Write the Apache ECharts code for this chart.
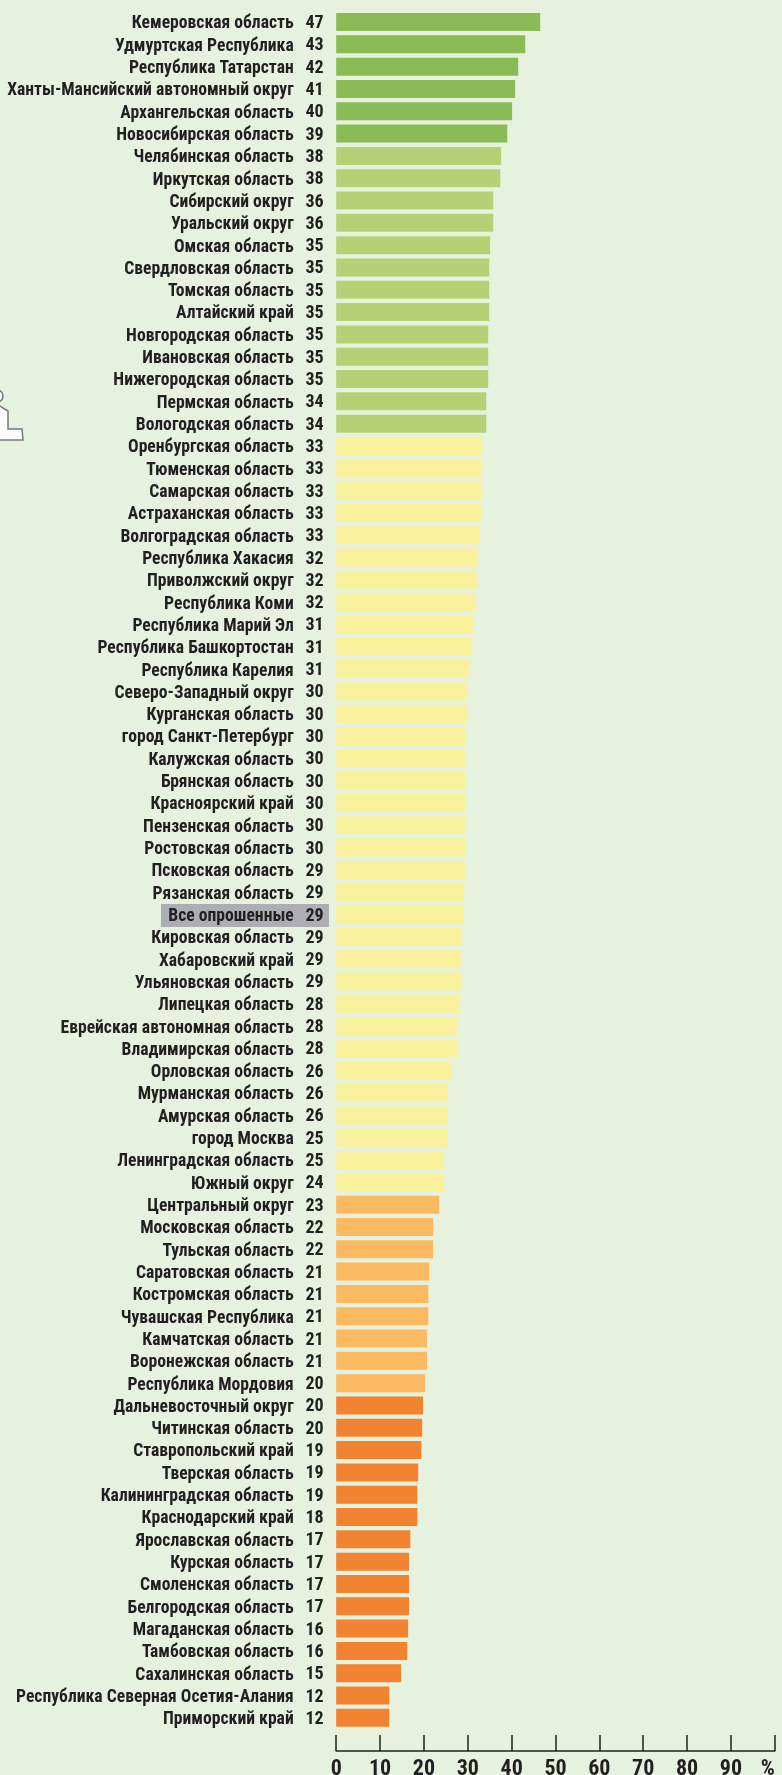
<!DOCTYPE html>
<html>
<head>
<meta charset="utf-8">
<style>
    html, body { margin: 0; padding: 0; background: #e6f1de; }
    #chart { width: 782px; height: 1775px; }
</style>
<script src="https://cdn.jsdelivr.net/npm/echarts@6/dist/echarts.min.js"></script>
</head>
<body>
<div id="chart"></div>
<script>
const regions = [
    'Кемеровская область', 'Удмуртская Республика', 'Республика Татарстан', 'Ханты-Мансийский автономный округ',
    'Архангельская область', 'Новосибирская область', 'Челябинская область', 'Иркутская область',
    'Сибирский округ', 'Уральский округ', 'Омская область', 'Свердловская область', 'Томская область',
    'Алтайский край', 'Новгородская область', 'Ивановская область', 'Нижегородская область', 'Пермская область',
    'Вологодская область', 'Оренбургская область', 'Тюменская область', 'Самарская область', 'Астраханская область',
    'Волгоградская область', 'Республика Хакасия', 'Приволжский округ', 'Республика Коми', 'Республика Марий Эл',
    'Республика Башкортостан', 'Республика Карелия', 'Северо-Западный округ', 'Курганская область',
    'город Санкт-Петербург', 'Калужская область', 'Брянская область', 'Красноярский край', 'Пензенская область',
    'Ростовская область', 'Псковская область', 'Рязанская область', 'Все опрошенные', 'Кировская область',
    'Хабаровский край', 'Ульяновская область', 'Липецкая область', 'Еврейская автономная область',
    'Владимирская область', 'Орловская область', 'Мурманская область', 'Амурская область', 'город Москва',
    'Ленинградская область', 'Южный округ', 'Центральный округ', 'Московская область', 'Тульская область',
    'Саратовская область', 'Костромская область', 'Чувашская Республика', 'Камчатская область', 'Воронежская область',
    'Республика Мордовия', 'Дальневосточный округ', 'Читинская область', 'Ставропольский край', 'Тверская область',
    'Калининградская область', 'Краснодарский край', 'Ярославская область', 'Курская область', 'Смоленская область',
    'Белгородская область', 'Магаданская область', 'Тамбовская область', 'Сахалинская область',
    'Республика Северная Осетия-Алания', 'Приморский край'
];
// подписи с картинки (округлённые)
const valueLabels = [
    '47', '43', '42', '41', '40', '39', '38', '38', '36', '36', '35', '35', '35', '35', '35', '35', '35', '34', '34',
    '33', '33', '33', '33', '33', '32', '32', '32', '31', '31', '31', '30', '30', '30', '30', '30', '30', '30', '30',
    '29', '29', '29', '29', '29', '29', '28', '28', '28', '26', '26', '26', '25', '25', '24', '23', '22', '22',
    '21', '21', '21', '21', '21', '20', '20', '20', '19', '19', '19', '18', '17', '17', '17', '17', '16', '16', '15',
    '12', '12'
];
// длины столбиков
const barValues = [
    46.5, 43.1, 41.5, 40.8, 40.1, 39.0, 37.6, 37.4, 35.8, 35.8, 35.1, 34.9, 34.9, 34.9, 34.65, 34.65, 34.65, 34.2, 34.2,
    33.3, 33.3, 33.3, 33.1, 32.8, 32.4, 32.2, 31.8, 31.3, 31.0, 30.5, 29.9, 29.9, 29.6, 29.6, 29.6, 29.6, 29.5, 29.5,
    29.5, 29.2, 29.0, 28.7, 28.6, 28.6, 28.1, 27.7, 27.7, 26.3, 25.5, 25.5, 25.5, 24.5, 24.5, 23.5, 22.1, 22.1,
    21.2, 21.0, 21.0, 20.7, 20.7, 20.3, 19.8, 19.6, 19.4, 18.7, 18.5, 18.5, 16.9, 16.6, 16.6, 16.6, 16.4, 16.2, 14.8,
    12.1, 12.1
];
const highlighted = 'Все опрошенные';

const textColor = '#231f20';
const fontFamily = '"Roboto Condensed", "Liberation Sans", sans-serif';

function barColor(v) {
    if (v >= 38.5) return '#8abb55';
    if (v >= 33.8) return '#b8d075';
    if (v >= 24) return '#f9f19b';
    if (v >= 20) return '#fbb962';
    return '#f28331';
}

const chart = echarts.init(document.getElementById('chart'));
chart.setOption({
    animation: false,
    backgroundColor: '#e6f1de',
    grid: { left: 336.2, right: 7.2, top: 10.85, bottom: 46, outerBoundsMode: 'none' },
    xAxis: {
        type: 'value',
        min: 0,
        max: 100,
        interval: 10,
        offset: 22,
        splitLine: { show: false },
        axisLine: { show: true, lineStyle: { color: textColor, width: 1.5 } },
        axisTick: { show: true, inside: true, length: 16, lineStyle: { color: textColor, width: 1.5 } },
        axisLabel: {
            color: textColor,
            fontFamily: fontFamily,
            fontWeight: 'bold',
            fontSize: 22,
            margin: 7,
            alignMaxLabel: 'right',
            formatter: v => v === 100 ? '%' : v
        }
    },
    yAxis: [
        {
            type: 'category',
            inverse: true,
            data: regions,
            axisLine: { show: false },
            axisTick: { show: false },
            axisLabel: {
                interval: 0,
                margin: 42.5,
                // опускаем подписи чуть ниже середины строки
                verticalAlign: 'top',
                lineHeight: 4,
                color: textColor,
                fontFamily: fontFamily,
                fontWeight: 'bold',
                fontSize: 17.6
            }
        },
        {
            type: 'category',
            position: 'left',
            inverse: true,
            data: valueLabels,
            axisLine: { show: false },
            axisTick: { show: false },
            axisLabel: {
                interval: 0,
                margin: 12.5,
                verticalAlign: 'top',
                lineHeight: 3,
                color: textColor,
                fontFamily: fontFamily,
                fontWeight: 'bold',
                fontSize: 18
            }
        }
    ],
    series: [{
        type: 'bar',
        yAxisIndex: 0,
        barWidth: 18,
        data: barValues.map(v => ({ value: v, itemStyle: { color: barColor(v) } }))
    }]
});

// серая плашка строки "Все опрошенные" и обрезанный значок слева
const rowY = chart.convertToPixel({ yAxisIndex: 0 }, highlighted);
chart.setOption({
    graphic: [
        {
            type: 'rect',
            z: -1,
            silent: true,
            shape: { x: 161, y: rowY - 10.5, width: 168, height: 23 },
            style: { fill: '#adaeb3' }
        },
        {
            type: 'circle',
            silent: true,
            shape: { cx: -3, cy: 396, r: 6 },
            style: { fill: '#fff', stroke: '#77787b', lineWidth: 1.5 }
        },
        {
            type: 'polygon',
            silent: true,
            shape: { points: [[-2, 405], [8, 411], [8, 429], [22, 429], [23, 440], [-2, 440]] },
            style: { fill: '#fff', stroke: '#77787b', lineWidth: 1.5 }
        }
    ]
});
</script>
</body>
</html>
